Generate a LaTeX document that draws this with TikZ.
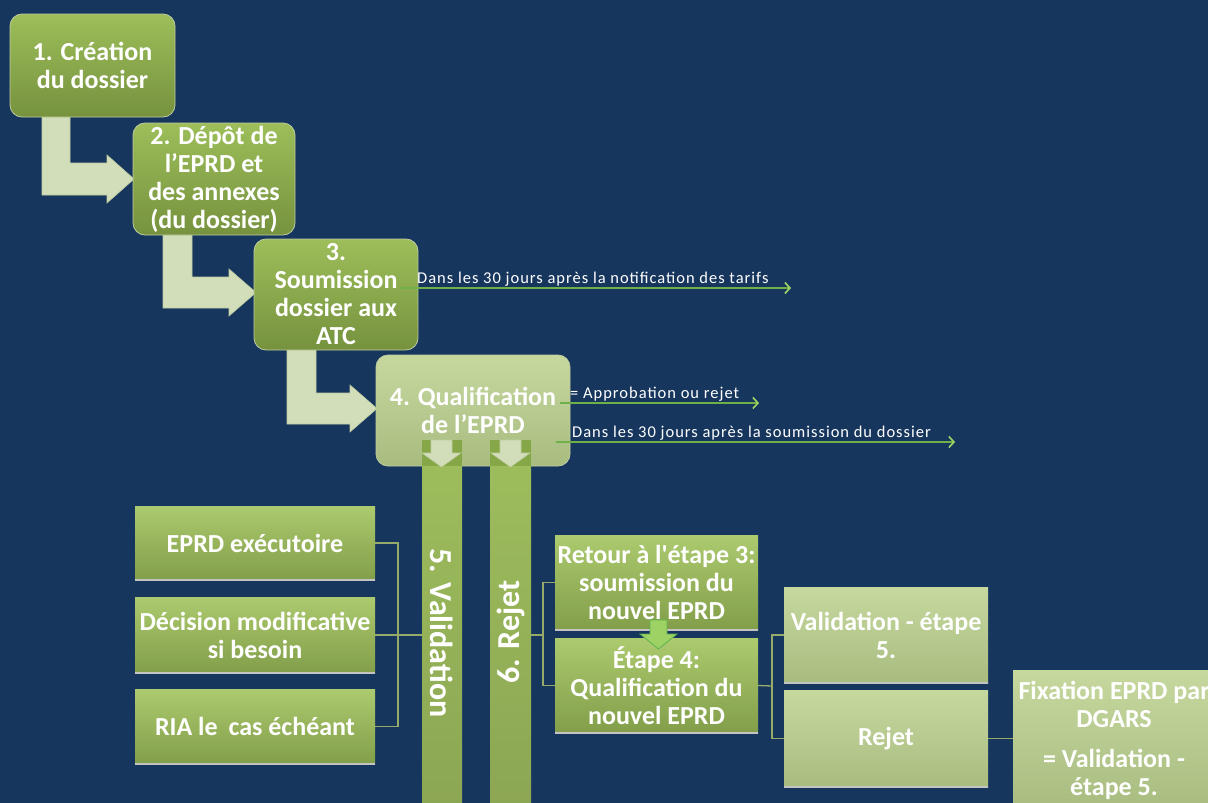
\documentclass[tikz,border=0pt]{standalone}
\usepackage{fontspec}
\setmainfont{Carlito}
\newfontfamily\annotfont[LetterSpace=6]{Carlito}
\usetikzlibrary{arrows.meta,calc}
\definecolor{bg}{RGB}{23,54,93}
\definecolor{gtop}{RGB}{157,190,90}
\definecolor{gbot}{RGB}{118,146,62}
\definecolor{ptop}{RGB}{198,216,158}
\definecolor{pbot}{RGB}{168,188,128}
\definecolor{rtop}{RGB}{172,202,110}
\definecolor{rbot}{RGB}{130,158,74}
\definecolor{bartop}{RGB}{158,190,92}
\definecolor{barbot}{RGB}{140,166,84}
\definecolor{barcap}{RGB}{134,167,71}
\definecolor{bend}{RGB}{210,222,185}
\definecolor{bendedge}{RGB}{190,204,160}
\definecolor{conn}{RGB}{150,170,105}
\definecolor{annot}{RGB}{112,176,72}
\definecolor{annottip}{RGB}{160,214,100}
\definecolor{smallarrow}{RGB}{158,210,100}
\definecolor{smalledge}{RGB}{90,180,80}
\definecolor{shadowgray}{RGB}{196,196,196}
\tikzset{
  boxfont/.style={text=white,font=\bfseries\fontsize{26}{28}\selectfont,align=center,inner sep=0pt},
  stepbox/.style={boxfont,rounded corners=12pt,top color=gtop,bottom color=gbot,draw=bendedge,line width=0.8pt},
  palestep/.style={boxfont,rounded corners=12pt,top color=ptop,bottom color=pbot,draw=bendedge,line width=0.8pt},
  greenbox/.style={boxfont,rectangle,top color=rtop,bottom color=rbot},
  palebox/.style={boxfont,rectangle,top color=ptop,bottom color=pbot},
  barbox/.style={rectangle,top color=bartop,bottom color=barbot,inner sep=0pt},
  barlabel/.style={text=white,font=\bfseries\fontsize{32}{34}\selectfont,inner sep=0pt},
  bendarrow/.style={fill=bend,draw=bendedge,line width=0.6pt},
  conline/.style={draw=conn,line width=1.3pt},
  annotline/.style={draw=annot,line width=1.4pt,-{Straight Barb[length=5pt,width=11pt,line width=1.6pt,color=annottip]}},
  annottext/.style={text=white,font=\annotfont\fontsize{16.5}{18}\selectfont,inner sep=0pt,anchor=base west},
  shadowline/.style={draw=shadowgray,line width=2pt},
  downarrow/.style={fill=bend,draw=bendedge,line width=0.6pt},
}
\begin{document}
\begin{tikzpicture}[x=1pt,y=-1pt]
\useasboundingbox (0,0) rectangle (1208,803);
\fill[bg] (0,0) rectangle (1208,803);
\clip (0,0) rectangle (1208,803);

% bent arrows
\draw[bendarrow] (42,110) -- (70,110) -- (70,163) -- (107,163) -- (107,155) -- (134,179) -- (107,203) -- (107,195) -- (42,195) -- cycle;
\draw[bendarrow] (163,228) -- (192,228) -- (192,277) -- (229,277) -- (229,269) -- (256,292.5) -- (229,316) -- (229,308) -- (163,308) -- cycle;
\draw[bendarrow] (287,343) -- (316,343) -- (316,393) -- (350,393) -- (350,385) -- (377,408.5) -- (350,432) -- (350,424) -- (287,424) -- cycle;

% main steps
\node[stepbox,minimum width=165pt,minimum height=103pt] (s1) at (92.5,65.5) {1. Création\\du dossier};
\node[stepbox,minimum width=162pt,minimum height=112pt] (s2) at (214,179) {2. Dépôt de\\l’EPRD et\\des annexes\\(du dossier)};
\node[stepbox,minimum width=164pt,minimum height=111pt] (s3) at (336,294.5) {3.\\Soumission\\dossier aux\\ATC};
\node[palestep,minimum width=194pt,minimum height=111pt] (s4) at (473,410.5) {4. Qualification\\de l’EPRD};

% bars
\node[barbox,minimum width=40pt,minimum height=370pt] (b5) at (442,625) {};
\node[barbox,minimum width=41pt,minimum height=370pt] (b6) at (510.5,625) {};
\fill[barcap] (b5.north west) rectangle ($(b5.north east)+(0,26)$);
\fill[barcap] (b6.north west) rectangle ($(b6.north east)+(0,26)$);
\draw[downarrow] (431,440) -- (452,440) -- (452,453) -- (461,453) -- (441.5,467) -- (422,453) -- (431,453) -- cycle;
\draw[downarrow] (500,440) -- (521,440) -- (521,453) -- (530,453) -- (510.5,467) -- (491,453) -- (500,453) -- cycle;
\node[barlabel,rotate=-90] (l5) at (442,633) {5. Validation};
\node[barlabel,rotate=90] (l6) at (510.5,632) {6. Rejet};

% annotations
\coordinate (a1s) at (400,288); \coordinate (a1e) at (791,288);
\coordinate (a2s) at (560,403); \coordinate (a2e) at (759,403);
\coordinate (a3s) at (556,442); \coordinate (a3e) at (955,442);
\draw[annotline] (a1s) -- (a1e);
\draw[annotline] (a2s) -- (a2e);
\draw[annotline] (a3s) -- (a3e);
\node[annottext] (t1) at (417,283) {Dans les 30 jours après la notification des tarifs};
\node[annottext] (t2) at (570,398) {= Approbation ou rejet};
\node[annottext] (t3) at (572,437) {Dans les 30 jours après la soumission du dossier};

% left boxes
\node[greenbox,minimum width=240pt,minimum height=74pt] (eprd) at (255,543) {EPRD exécutoire};
\node[greenbox,minimum width=240pt,minimum height=76pt] (dec) at (255,635) {Décision modificative\\si besoin};
\node[greenbox,minimum width=240pt,minimum height=75pt] (ria) at (255,726.5) {RIA le\hspace{5pt} cas échéant};
\foreach \n in {eprd,dec,ria} \draw[shadowline] (\n.south west) -- (\n.south east);

\coordinate (lj) at (398,635);
\draw[conline] (eprd.east) -| (lj) |- (ria.east);
\draw[conline] (dec.east) -- (b5.west |- dec.east);

% right boxes
\node[greenbox,minimum width=203pt,minimum height=95pt] (ret) at (656.5,582.5) {Retour à l\textquotesingle étape 3:\\soumission du\\nouvel EPRD};
\node[greenbox,minimum width=203pt,minimum height=95pt] (et4) at (656.5,685.5) {Étape 4:\\Qualification du\\nouvel EPRD};
\foreach \n in {ret,et4} \draw[shadowline] (\n.south west) -- (\n.south east);
\coordinate (rj) at (543,635);
\draw[conline] (ret.west) -| (rj) |- (et4.west);
\draw[conline] (b6.east |- rj) -- (rj);

% small green arrow
\draw[fill=smallarrow,draw=smalledge,line width=0.8pt] (650,620) -- (667,620) -- (667,634) -- (677,634) -- (658.5,649) -- (640,634) -- (650,634) -- cycle;

\node[palebox,minimum width=204pt,minimum height=96pt] (val) at (886,635) {Validation - étape\\5.};
\node[palebox,minimum width=204pt,minimum height=97pt] (rej) at (886,738.5) {Rejet};
\foreach \n in {val,rej} \draw[shadowline] (\n.south west) -- (\n.south east);
\coordinate (vj) at (772,686);
\draw[conline] (val.west) -| (vj) |- (rej.west);
\draw[conline] (et4.east) -- (vj);

\node[palebox,minimum width=202pt,minimum height=140pt] (fix) at (1114,740) {Fixation EPRD par\\DGARS\\[12pt]= Validation -\\étape 5.};
\draw[conline] (rej.east) -- (fix.west |- rej.east);
\end{tikzpicture}
\end{document}
